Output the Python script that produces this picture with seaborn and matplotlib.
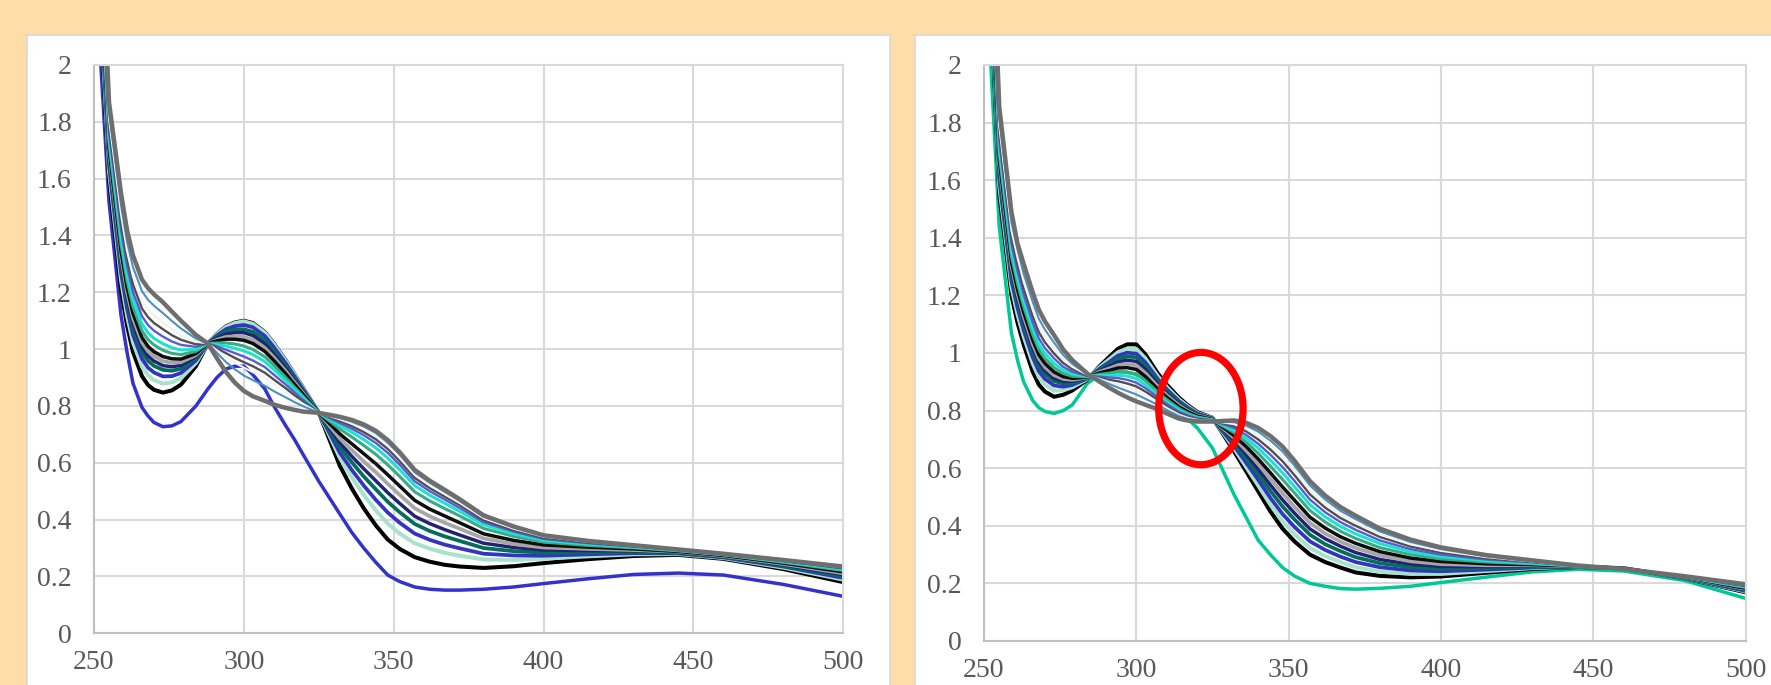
import numpy as np
import pandas as pd
import seaborn as sns
import matplotlib.pyplot as plt
from matplotlib.patches import Rectangle, Ellipse
from matplotlib.ticker import FuncFormatter

sns.set_style("white")
plt.rcParams['font.family'] = ['Liberation Serif', 'DejaVu Serif']

# wavelength grid (nm), same for every spectrum
wl = [252, 255, 259, 261, 263, 266, 268, 270, 273, 276, 279, 284, 288, 291, 294, 297, 300, 303,
      307, 310, 314, 317, 320, 325, 332, 336, 340, 344, 348, 352, 357, 362, 367, 372, 380, 390,
      400, 415, 430, 445, 460, 480, 500]

# ---- left titration (absorbance)
L_start = [2.05, 1.52, 1.12, 0.99, 0.88, 0.795, 0.765, 0.742, 0.727, 0.73, 0.745, 0.80, 0.86, 0.90, 0.93,
           0.94, 0.94, 0.91, 0.86, 0.80, 0.73, 0.68, 0.625, 0.535, 0.42, 0.355, 0.30, 0.25, 0.205, 0.182,
           0.163, 0.155, 0.152, 0.152, 0.155, 0.163, 0.175, 0.192, 0.207, 0.212, 0.205, 0.172, 0.13]
L_01 = [2.2, 1.6, 1.21, 1.085, 0.99, 0.905, 0.874, 0.857, 0.847, 0.855, 0.875, 0.94, 1.02, 1.053, 1.08,
        1.094, 1.10, 1.092, 1.06, 1.02, 0.96, 0.91, 0.86, 0.776, 0.59, 0.51, 0.44, 0.38, 0.33, 0.297,
        0.268, 0.252, 0.241, 0.235, 0.23, 0.236, 0.247, 0.261, 0.272, 0.276, 0.262, 0.226, 0.18]
L_02 = [2.24, 1.627, 1.244, 1.119, 1.024, 0.939, 0.908, 0.891, 0.879, 0.883, 0.898, 0.951, 1.02, 1.052, 1.078,
        1.092, 1.098, 1.089, 1.058, 1.018, 0.958, 0.909, 0.859, 0.776, 0.618, 0.549, 0.487, 0.433, 0.386, 0.351,
        0.317, 0.298, 0.283, 0.273, 0.26, 0.258, 0.263, 0.271, 0.278, 0.279, 0.265, 0.231, 0.189]
L_03 = [2.272, 1.649, 1.271, 1.145, 1.051, 0.966, 0.935, 0.918, 0.904, 0.905, 0.916, 0.96, 1.02, 1.048, 1.07,
        1.081, 1.085, 1.077, 1.046, 1.007, 0.95, 0.903, 0.855, 0.776, 0.636, 0.575, 0.52, 0.47, 0.425, 0.389,
        0.351, 0.329, 0.312, 0.299, 0.28, 0.274, 0.273, 0.278, 0.282, 0.281, 0.267, 0.235, 0.195]
L_04 = [2.3, 1.668, 1.295, 1.169, 1.075, 0.99, 0.959, 0.941, 0.927, 0.924, 0.931, 0.968, 1.02, 1.043, 1.061,
        1.069, 1.07, 1.061, 1.031, 0.994, 0.94, 0.895, 0.85, 0.776, 0.655, 0.602, 0.552, 0.507, 0.463, 0.426,
        0.385, 0.36, 0.341, 0.325, 0.30, 0.289, 0.284, 0.285, 0.286, 0.283, 0.269, 0.238, 0.201]
L_05 = [2.32, 1.681, 1.312, 1.186, 1.092, 1.007, 0.976, 0.958, 0.942, 0.938, 0.943, 0.973, 1.02, 1.039, 1.053,
        1.058, 1.058, 1.048, 1.019, 0.983, 0.932, 0.889, 0.846, 0.776, 0.671, 0.623, 0.579, 0.537, 0.495, 0.457,
        0.412, 0.386, 0.365, 0.346, 0.317, 0.302, 0.293, 0.291, 0.29, 0.285, 0.27, 0.241, 0.206]
L_06 = [2.34, 1.695, 1.329, 1.202, 1.109, 1.024, 0.993, 0.975, 0.958, 0.952, 0.954, 0.979, 1.02, 1.033, 1.043,
        1.045, 1.043, 1.033, 1.004, 0.971, 0.922, 0.882, 0.842, 0.776, 0.686, 0.645, 0.605, 0.567, 0.526, 0.487,
        0.44, 0.412, 0.389, 0.368, 0.334, 0.314, 0.302, 0.297, 0.293, 0.287, 0.272, 0.244, 0.211]
L_07 = [2.36, 1.708, 1.346, 1.219, 1.126, 1.041, 1.01, 0.991, 0.974, 0.966, 0.965, 0.984, 1.02, 1.029, 1.035,
        1.035, 1.031, 1.02, 0.992, 0.96, 0.913, 0.875, 0.838, 0.776, 0.702, 0.667, 0.632, 0.597, 0.558, 0.518,
        0.468, 0.437, 0.413, 0.389, 0.35, 0.327, 0.311, 0.303, 0.297, 0.288, 0.274, 0.247, 0.216]
L_08 = [2.39, 1.727, 1.37, 1.242, 1.15, 1.065, 1.034, 1.015, 0.996, 0.985, 0.981, 0.992, 1.02, 1.022, 1.022,
        1.018, 1.011, 0.999, 0.973, 0.943, 0.90, 0.865, 0.831, 0.776, 0.719, 0.691, 0.661, 0.63, 0.593, 0.552,
        0.498, 0.466, 0.439, 0.413, 0.369, 0.341, 0.321, 0.309, 0.301, 0.29, 0.276, 0.25, 0.221]
L_09 = [2.42, 1.746, 1.394, 1.266, 1.174, 1.089, 1.058, 1.038, 1.019, 1.005, 0.997, 0.999, 1.02, 1.016, 1.011,
        1.003, 0.994, 0.981, 0.956, 0.928, 0.888, 0.857, 0.826, 0.776, 0.731, 0.708, 0.682, 0.653, 0.617, 0.576,
        0.52, 0.486, 0.458, 0.429, 0.382, 0.351, 0.327, 0.314, 0.303, 0.292, 0.277, 0.252, 0.225]
L_10 = [2.45, 1.767, 1.421, 1.293, 1.201, 1.116, 1.085, 1.065, 1.044, 1.027, 1.015, 1.008, 1.02, 1.01, 0.998,
        0.986, 0.974, 0.96, 0.937, 0.91, 0.875, 0.847, 0.819, 0.776, 0.74, 0.72, 0.697, 0.67, 0.635, 0.593,
        0.535, 0.50, 0.471, 0.441, 0.391, 0.358, 0.332, 0.317, 0.305, 0.293, 0.278, 0.254, 0.228]
L_11 = [2.48, 1.789, 1.448, 1.32, 1.228, 1.143, 1.113, 1.092, 1.07, 1.049, 1.033, 1.017, 1.02, 1.003, 0.986,
        0.969, 0.954, 0.94, 0.917, 0.893, 0.862, 0.837, 0.813, 0.776, 0.747, 0.729, 0.708, 0.683, 0.649, 0.606,
        0.547, 0.511, 0.481, 0.451, 0.398, 0.363, 0.336, 0.319, 0.307, 0.293, 0.278, 0.255, 0.23]
L_12 = [2.51, 1.811, 1.475, 1.346, 1.255, 1.17, 1.14, 1.119, 1.095, 1.071, 1.05, 1.026, 1.02, 0.996, 0.973,
        0.952, 0.935, 0.919, 0.898, 0.876, 0.848, 0.827, 0.806, 0.776, 0.753, 0.738, 0.719, 0.695, 0.661, 0.618,
        0.558, 0.521, 0.49, 0.459, 0.405, 0.368, 0.34, 0.322, 0.308, 0.294, 0.279, 0.256, 0.232]
L_13 = [2.55, 1.838, 1.509, 1.38, 1.289, 1.204, 1.174, 1.153, 1.127, 1.099, 1.073, 1.037, 1.02, 0.987, 0.955,
        0.929, 0.907, 0.891, 0.871, 0.852, 0.83, 0.813, 0.798, 0.776, 0.758, 0.745, 0.728, 0.705, 0.671, 0.629,
        0.567, 0.53, 0.498, 0.466, 0.41, 0.373, 0.343, 0.323, 0.309, 0.295, 0.28, 0.257, 0.234]
L_end = [2.6, 1.87, 1.55, 1.42, 1.33, 1.245, 1.215, 1.193, 1.165, 1.132, 1.10, 1.05, 1.02, 0.968, 0.92,
         0.882, 0.853, 0.834, 0.818, 0.805, 0.793, 0.786, 0.78, 0.776, 0.762, 0.751, 0.735, 0.713, 0.68, 0.637,
         0.575, 0.537, 0.505, 0.472, 0.415, 0.376, 0.345, 0.325, 0.31, 0.295, 0.28, 0.258, 0.235]

# ---- right titration
R_start = [2.05, 1.44, 1.07, 0.975, 0.90, 0.835, 0.81, 0.797, 0.79, 0.80, 0.82, 0.895, 0.925, 0.932, 0.935,
           0.933, 0.925, 0.907, 0.88, 0.85, 0.80, 0.77, 0.74, 0.67, 0.51, 0.43, 0.35, 0.30, 0.255, 0.225,
           0.20, 0.19, 0.182, 0.18, 0.183, 0.19, 0.203, 0.222, 0.24, 0.249, 0.243, 0.21, 0.148]
R_01 = [2.3, 1.55, 1.2, 1.105, 1.03, 0.935, 0.89, 0.866, 0.848, 0.855, 0.87, 0.908, 0.955, 0.985, 1.015,
        1.03, 1.03, 0.995, 0.93, 0.89, 0.845, 0.818, 0.795, 0.775, 0.66, 0.59, 0.52, 0.45, 0.39, 0.345,
        0.30, 0.274, 0.255, 0.238, 0.226, 0.221, 0.224, 0.237, 0.25, 0.257, 0.253, 0.218, 0.169]
R_02 = [2.34, 1.581, 1.229, 1.134, 1.058, 0.963, 0.916, 0.89, 0.869, 0.871, 0.881, 0.91, 0.951, 0.977, 1.003,
        1.015, 1.014, 0.981, 0.92, 0.882, 0.839, 0.814, 0.792, 0.774, 0.67, 0.605, 0.54, 0.474, 0.416, 0.37,
        0.323, 0.295, 0.274, 0.256, 0.241, 0.233, 0.233, 0.243, 0.253, 0.258, 0.253, 0.219, 0.172]
R_03 = [2.37, 1.605, 1.252, 1.157, 1.08, 0.985, 0.937, 0.91, 0.887, 0.883, 0.889, 0.912, 0.946, 0.968, 0.991,
        1.001, 0.998, 0.967, 0.91, 0.874, 0.833, 0.81, 0.79, 0.773, 0.679, 0.62, 0.56, 0.497, 0.441, 0.395,
        0.346, 0.316, 0.293, 0.274, 0.256, 0.245, 0.242, 0.248, 0.255, 0.258, 0.252, 0.219, 0.174]
R_04 = [2.4, 1.626, 1.273, 1.178, 1.10, 1.004, 0.955, 0.927, 0.902, 0.894, 0.896, 0.913, 0.942, 0.961, 0.98,
        0.988, 0.985, 0.955, 0.901, 0.867, 0.828, 0.806, 0.787, 0.772, 0.689, 0.635, 0.579, 0.521, 0.467, 0.421,
        0.369, 0.336, 0.312, 0.291, 0.27, 0.256, 0.251, 0.254, 0.258, 0.258, 0.252, 0.22, 0.177]
R_05 = [2.42, 1.642, 1.287, 1.192, 1.114, 1.018, 0.968, 0.939, 0.912, 0.902, 0.902, 0.914, 0.939, 0.954, 0.969,
        0.975, 0.971, 0.943, 0.893, 0.86, 0.823, 0.802, 0.785, 0.771, 0.697, 0.649, 0.597, 0.542, 0.49, 0.443,
        0.389, 0.355, 0.329, 0.307, 0.283, 0.267, 0.259, 0.258, 0.261, 0.259, 0.252, 0.221, 0.179]
R_06 = [2.44, 1.657, 1.302, 1.207, 1.128, 1.031, 0.981, 0.951, 0.923, 0.91, 0.907, 0.915, 0.935, 0.946, 0.958,
        0.962, 0.957, 0.93, 0.884, 0.853, 0.818, 0.798, 0.783, 0.77, 0.706, 0.662, 0.615, 0.563, 0.513, 0.465,
        0.41, 0.373, 0.345, 0.323, 0.297, 0.277, 0.267, 0.263, 0.263, 0.259, 0.252, 0.221, 0.181]
R_07 = [2.46, 1.672, 1.316, 1.221, 1.142, 1.045, 0.994, 0.964, 0.934, 0.918, 0.912, 0.916, 0.931, 0.939, 0.948,
        0.949, 0.943, 0.918, 0.875, 0.846, 0.813, 0.795, 0.781, 0.769, 0.714, 0.676, 0.632, 0.584, 0.535, 0.488,
        0.43, 0.392, 0.362, 0.339, 0.31, 0.288, 0.276, 0.268, 0.265, 0.26, 0.252, 0.222, 0.183]
R_08 = [2.49, 1.693, 1.336, 1.241, 1.162, 1.064, 1.012, 0.981, 0.949, 0.929, 0.919, 0.917, 0.926, 0.93, 0.935,
        0.934, 0.927, 0.904, 0.865, 0.838, 0.807, 0.79, 0.778, 0.768, 0.724, 0.691, 0.652, 0.607, 0.561, 0.513,
        0.453, 0.413, 0.381, 0.356, 0.324, 0.30, 0.285, 0.274, 0.268, 0.26, 0.251, 0.222, 0.186]
R_09 = [2.52, 1.715, 1.357, 1.262, 1.181, 1.084, 1.03, 0.998, 0.964, 0.94, 0.927, 0.919, 0.922, 0.922, 0.923,
        0.92, 0.911, 0.89, 0.855, 0.83, 0.801, 0.786, 0.775, 0.767, 0.732, 0.704, 0.67, 0.628, 0.584, 0.535,
        0.473, 0.431, 0.398, 0.372, 0.338, 0.31, 0.293, 0.279, 0.27, 0.26, 0.251, 0.223, 0.188]
R_10 = [2.55, 1.739, 1.38, 1.285, 1.204, 1.106, 1.051, 1.017, 0.981, 0.952, 0.935, 0.92, 0.918, 0.915, 0.913,
        0.907, 0.897, 0.878, 0.846, 0.823, 0.796, 0.783, 0.773, 0.766, 0.74, 0.716, 0.685, 0.647, 0.604, 0.555,
        0.491, 0.447, 0.413, 0.386, 0.349, 0.319, 0.30, 0.283, 0.273, 0.261, 0.251, 0.223, 0.19]
R_11 = [2.58, 1.764, 1.403, 1.308, 1.226, 1.128, 1.072, 1.037, 0.998, 0.965, 0.944, 0.922, 0.914, 0.907, 0.902,
        0.894, 0.884, 0.866, 0.838, 0.816, 0.791, 0.779, 0.771, 0.765, 0.747, 0.728, 0.70, 0.665, 0.624, 0.575,
        0.509, 0.463, 0.427, 0.40, 0.361, 0.328, 0.307, 0.287, 0.275, 0.261, 0.251, 0.224, 0.192]
R_12 = [2.61, 1.788, 1.426, 1.331, 1.248, 1.15, 1.093, 1.056, 1.015, 0.978, 0.952, 0.924, 0.91, 0.90, 0.891,
        0.881, 0.87, 0.853, 0.829, 0.809, 0.786, 0.775, 0.768, 0.764, 0.753, 0.738, 0.714, 0.681, 0.641, 0.591,
        0.524, 0.477, 0.44, 0.411, 0.37, 0.336, 0.313, 0.291, 0.276, 0.261, 0.25, 0.224, 0.194]
R_13 = [2.65, 1.818, 1.455, 1.36, 1.276, 1.177, 1.119, 1.081, 1.036, 0.993, 0.962, 0.926, 0.907, 0.893, 0.88,
        0.868, 0.856, 0.841, 0.82, 0.802, 0.781, 0.771, 0.766, 0.764, 0.76, 0.748, 0.727, 0.696, 0.658, 0.608,
        0.54, 0.491, 0.452, 0.423, 0.38, 0.344, 0.319, 0.294, 0.278, 0.262, 0.25, 0.225, 0.195]
R_end = [2.7, 1.855, 1.49, 1.38, 1.31, 1.21, 1.15, 1.11, 1.062, 1.012, 0.975, 0.928, 0.90, 0.88, 0.862,
         0.846, 0.832, 0.82, 0.805, 0.79, 0.772, 0.765, 0.762, 0.762, 0.766, 0.758, 0.74, 0.712, 0.675, 0.625,
         0.555, 0.505, 0.465, 0.435, 0.39, 0.352, 0.325, 0.298, 0.28, 0.262, 0.25, 0.225, 0.197]

# series colours / widths (Excel-like cycle), first one differs per panel
colors = ['#000000', '#A8E2CC', '#3434C0', '#00705A', '#232375', '#A6A6A6', '#0D0D0D',
          '#3AAA85', '#1CE3CC', '#5A5ADB', '#505050', '#F2F2F2', '#4A90C0', '#6E6E6E']
widths = [2.9, 2.9, 2.7, 2.7, 2.5, 2.7, 2.5, 2.2, 2.2, 1.7, 1.7, 1.5, 1.5, 3.2]

left_series = [L_01, L_02, L_03, L_04, L_05, L_06, L_07, L_08, L_09, L_10, L_11, L_12, L_13, L_end]
right_series = [R_01, R_02, R_03, R_04, R_05, R_06, R_07, R_08, R_09, R_10, R_11, R_12, R_13, R_end]

W, H = 1771, 685
fig = plt.figure(figsize=(W / 100, H / 100), dpi=100, facecolor='#FEDDA6')

# white chart areas
for x0, x1 in [(26.7, 890), (915, 1800)]:
    fig.add_artist(Rectangle((x0 / W, -0.05), (x1 - x0) / W, 1.05 - 34.7 / H,
                             transform=fig.transFigure, facecolor='white',
                             edgecolor='#D9D9D9', lw=1.2, zorder=-1))

axL = fig.add_axes([94 / W, 1 - 633.3 / H, (843.3 - 94) / W, (633.3 - 65) / H])
axR = fig.add_axes([984 / W, 1 - 641 / H, (1745.6 - 984) / W, (641 - 65) / H])


def draw_panel(ax, start, start_color, series):
    sns.lineplot(x=wl, y=start, color=start_color, linewidth=2.5, ax=ax)
    for vals, c, lw in zip(series, colors, widths):
        sns.lineplot(x=wl, y=vals, color=c, linewidth=lw, ax=ax)
    ax.set_xlim(250, 500)
    ax.set_ylim(0, 2)
    ax.set_xticks(range(250, 501, 50))
    ax.set_yticks(np.arange(0, 2.01, 0.2))
    ax.yaxis.set_major_formatter(FuncFormatter(lambda v, _: f"{v:g}"))
    ax.grid(True, color='#D9D9D9', lw=1.5)
    ax.set_axisbelow(True)
    ax.set_xlabel('')
    ax.set_ylabel('')
    ax.tick_params(length=0, labelsize=20, labelcolor='#595959')
    ax.tick_params(axis='x', pad=12)
    ax.tick_params(axis='y', pad=16)
    for s in ax.spines.values():
        s.set_visible(True)
        s.set_color('#D9D9D9')
        s.set_linewidth(1.5)
    ax.spines['left'].set_color('#BFBFBF')
    ax.spines['bottom'].set_color('#BFBFBF')


draw_panel(axL, L_start, '#3333CC', left_series)
draw_panel(axR, R_start, '#00C896', right_series)

# red highlight ring on the right chart
axR.add_patch(Ellipse((321.2, 0.807), 27.7, 0.39, fill=False, edgecolor='#FF0000',
                      lw=5.2, zorder=10))

fig.savefig('out.png', dpi=100, facecolor=fig.get_facecolor())
